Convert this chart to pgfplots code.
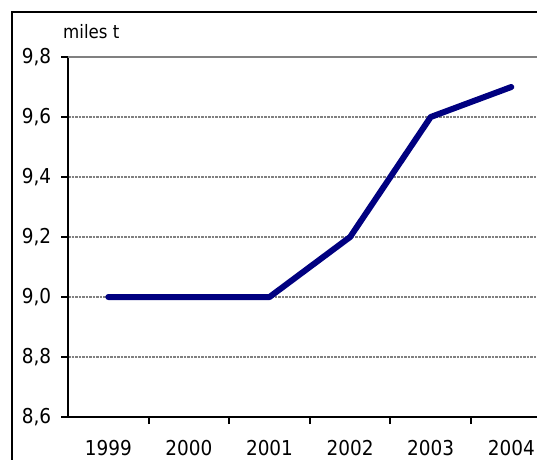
\documentclass[border=0pt]{standalone}
\usepackage{fontspec}
\setmainfont{DejaVu Sans Condensed}
\usepackage{pgfplots}
\pgfplotsset{compat=1.18}
\definecolor{navyline}{RGB}{0,0,128}
\definecolor{gridgray}{RGB}{128,128,128}
\begin{document}
\fontsize{20pt}{24pt}\selectfont
\begin{tikzpicture}[x=1pt,y=1pt]
\useasboundingbox (0,0) rectangle (537,459);
\begin{scope}
\clip (0,0) rectangle (537,459);
\draw[line width=2pt] (12,-5) -- (12,447) -- (545,447);
\node[anchor=base west, inner sep=0pt, font=\fontsize{18.5pt}{22pt}\selectfont] at (63,420) {miles t};
\begin{axis}[
  at={(68pt,42pt)}, anchor=south west, scale only axis,
  width=469pt, height=360pt,
  xmin=-0.5, xmax=5.319, ymin=8.6, ymax=9.8,
  axis x line=bottom, axis y line=left,
  axis line style={-, line width=2pt, black},
  tick style={black, line width=2pt},
  tick align=outside, major tick length=7pt,
  xtick={0.5,1.5,2.5,3.5,4.5}, xticklabels={},
  extra x ticks={0,1,2,3,4,5},
  extra x tick labels={1999,2000,2001,2002,2003,2004},
  extra x tick style={major tick length=0pt, tick label style={yshift=-16pt}},
  ytick={8.6,8.8,9.0,9.2,9.4,9.6},
  extra y ticks={9.8},
  extra y tick style={ymajorgrids=true, major grid style={solid, line width=2.2pt, gridgray}},
  ymajorgrids=true,
  major grid style={gridgray, line width=1.1pt, dash pattern=on 2.5pt off 1pt},
  yticklabel style={xshift=-3pt, /pgf/number format/.cd, use comma, fixed, fixed zerofill, precision=1, assume math mode=true},
  tick label style={font=\fontsize{20.5pt}{24pt}\selectfont},
]
\addplot[navyline, line width=6pt, line cap=round, line join=round, mark=none] coordinates {
(0,9.0) (1,9.0) (2,9.0) (3,9.2) (4,9.6) (5,9.7)
};
\end{axis}
\end{scope}
\end{tikzpicture}
\end{document}
